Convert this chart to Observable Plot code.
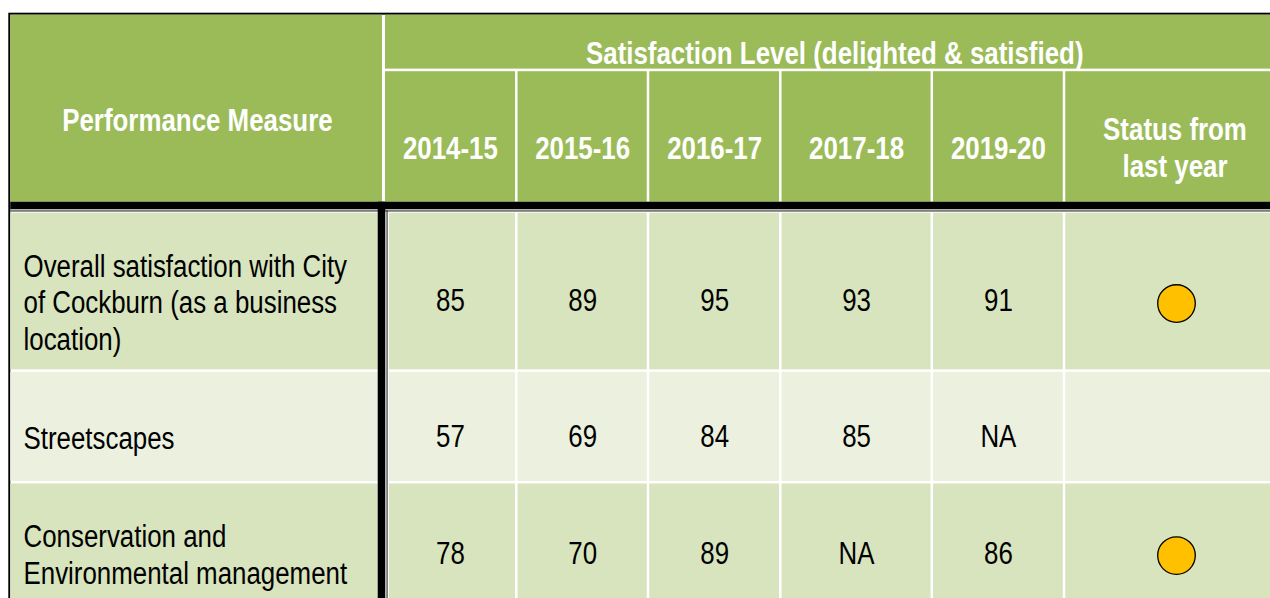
<!DOCTYPE html>
<html><head><meta charset="utf-8">
<script src="https://cdn.jsdelivr.net/npm/d3@7"></script>
<script src="https://cdn.jsdelivr.net/npm/@observablehq/plot@0.6"></script>
<style>
html,body{margin:0;padding:0;background:#fff;overflow:hidden;}
#chart svg{display:block}
</style></head><body><div id="chart"></div>
<script>
// ---------- data ----------
const measureHeader = "Performance Measure";
const groupHeader = "Satisfaction Level (delighted & satisfied)";
const statusHeader = "Status from\nlast year";
const years = ["2014-15", "2015-16", "2016-17", "2017-18", "2019-20"];
const measures = [
  "Overall satisfaction with City\nof Cockburn (as a business\nlocation)",
  "Streetscapes",
  "Conservation and\nEnvironmental management"
];
const overallSatisfaction = [85, 89, 95, 93, 91];
const streetscapes = [57, 69, 84, 85, null];
const conservation = [78, 70, 89, null, 86];
const statusFromLastYear = ["amber", "", "amber"];

// ---------- layout & style ----------
const W = 1270, H = 598;
const FONT = "'Liberation Sans', Arial, sans-serif";
const NARROW = 0.835; // horizontal condensing (Arial Narrow look)
const colEdges = [10.3, 383.5, 516.3, 648, 780.3, 931.8, 1064, 1285];
const headerTop = 14.7, groupBottom = 68.6, subTop = 71.2, headerBottom = 201.7;
const rowEdges = [212.7, 370.6, 482.2, 604];
const gap = 1.25, textDrop = 10, FS = 31;
const GREEN = "#9BBB59", ROW_DARK = "#D7E4BD", ROW_LIGHT = "#EBF1DE", AMBER = "#FFC000";

const series = [overallSatisfaction, streetscapes, conservation];

// header cells
const headerCells = [
  {x1: colEdges[0], x2: colEdges[1] - 1.5, y1: headerTop, y2: headerBottom},
  {x1: colEdges[1] + 1.5, x2: 1300, y1: headerTop, y2: groupBottom},
  ...years.map((y, i) => ({x1: colEdges[i + 1] + (i === 0 ? 1.5 : gap), x2: colEdges[i + 2] - gap, y1: subTop, y2: headerBottom})),
  {x1: colEdges[6] + gap, x2: 1300, y1: subTop, y2: headerBottom}
];
const headerTexts = [
  {x: (colEdges[0] + colEdges[1]) / 2, y: (headerTop + headerBottom) / 2 + textDrop, t: measureHeader},
  {x: (colEdges[1] + colEdges[7]) / 2, y: (headerTop + groupBottom) / 2 + textDrop, t: groupHeader},
  ...years.map((yr, i) => ({x: (colEdges[i + 1] + colEdges[i + 2]) / 2, y: (subTop + headerBottom) / 2 + textDrop, t: yr})),
  {x: (colEdges[6] + colEdges[7]) / 2, y: (subTop + headerBottom) / 2 + textDrop, t: statusHeader}
];

// body cells
const bodyCells = [];
const bodyTexts = [];
const labelTexts = [];
const dots = [];
measures.forEach((m, r) => {
  const y1 = rowEdges[r] + (r === 0 ? 0 : gap), y2 = rowEdges[r + 1] - gap;
  const fill = r % 2 === 0 ? ROW_DARK : ROW_LIGHT;
  const ty = (y1 + y2) / 2 + textDrop;
  bodyCells.push({x1: 10.3, x2: 377.7, y1, y2, fill});
  years.forEach((yr, c) => {
    const x1 = c === 0 ? 389 : colEdges[c + 1] + gap;
    bodyCells.push({x1, x2: colEdges[c + 2] - gap, y1, y2, fill});
    const v = series[r][c];
    bodyTexts.push({x: (colEdges[c + 1] + colEdges[c + 2]) / 2, y: ty, t: v == null ? "NA" : String(v)});
  });
  bodyCells.push({x1: colEdges[6] + gap, x2: 1300, y1, y2, fill});
  labelTexts.push({x: 23, y: ty, t: m});
  if (statusFromLastYear[r] === "amber") dots.push({x: (colEdges[6] + colEdges[7]) / 2 + 1.5, y: ty + 2});
});

const chart = Plot.plot({
  width: W, height: H, margin: 0,
  x: {domain: [0, W], range: [0, W], axis: null},
  y: {domain: [0, H], range: [0, H], axis: null},
  style: {fontFamily: FONT, background: "white", overflow: "hidden"},
  marks: [
    // outer black border
    Plot.rect([{}], {x1: 8.3, x2: 1300, y1: 12.7, y2: 700, fill: "black"}),
    Plot.rect([{}], {x1: 10.3, x2: 1300, y1: headerTop, y2: 700, fill: "white"}),
    // header
    Plot.rect(headerCells, {x1: "x1", x2: "x2", y1: "y1", y2: "y2", fill: GREEN}),
    // thick double rule under header
    Plot.rect([{}], {x1: 10.3, x2: 1300, y1: headerBottom, y2: 209.3, fill: "black"}),
    Plot.rect([{}], {x1: 10.3, x2: 1300, y1: 210.4, y2: 211.5, fill: "#2a2a2a"}),
    // body cells
    Plot.rect(bodyCells, {x1: "x1", x2: "x2", y1: "y1", y2: "y2", fill: "fill"}),
    // thick double rule right of first column
    Plot.rect([{}], {x1: 377.7, x2: 385.3, y1: headerBottom, y2: 700, fill: "black"}),
    Plot.rect([{}], {x1: 386.5, x2: 387.6, y1: 210.4, y2: 700, fill: "#2a2a2a"}),
    // header text
    Plot.text(headerTexts, {x: "x", y: "y", text: "t", fill: "white", fontSize: FS, fontWeight: "bold",
      textAnchor: "middle", lineAnchor: "middle", lineHeight: 1.2}),
    // body text
    Plot.text(labelTexts, {x: "x", y: "y", text: "t", fill: "black", fontSize: FS,
      textAnchor: "start", lineAnchor: "middle", lineHeight: 1.18}),
    Plot.text(bodyTexts, {x: "x", y: "y", text: "t", fill: "black", fontSize: FS,
      textAnchor: "middle", lineAnchor: "middle"}),
    // status dots
    Plot.dot(dots, {x: "x", y: "y", r: 18.8, fill: AMBER, stroke: "black", strokeWidth: 1.3})
  ]
});

// condense text horizontally around each text's own anchor (Arial Narrow look)
d3.select(chart).selectAll("text").each(function () {
  const tr = this.getAttribute("transform");
  if (tr) {
    this.setAttribute("transform", tr + ` scale(${NARROW},1)`);
  } else {
    const x = +this.getAttribute("x") || 0, y = +this.getAttribute("y") || 0;
    this.removeAttribute("x"); this.removeAttribute("y");
    this.setAttribute("transform", `translate(${x},${y}) scale(${NARROW},1)`);
  }
});
document.getElementById("chart").appendChild(chart);
</script>
</body></html>
